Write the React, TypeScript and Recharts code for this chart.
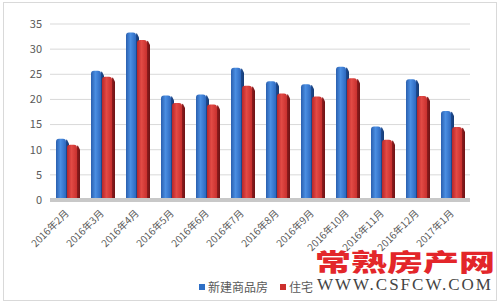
import React from "react";
import {
  BarChart,
  Bar,
  XAxis,
  YAxis,
  CartesianGrid,
  Legend,
} from "recharts";

const months = [
  "2016年2月",
  "2016年3月",
  "2016年4月",
  "2016年5月",
  "2016年6月",
  "2016年7月",
  "2016年8月",
  "2016年9月",
  "2016年10月",
  "2016年11月",
  "2016年12月",
  "2017年1月",
];
const newBuild = [12.2, 25.7, 33.3, 20.8, 21, 26.3, 23.6, 23, 26.5, 14.6, 24, 17.7];
const housing = [11, 24.5, 31.8, 19.3, 19, 22.7, 21.2, 20.6, 24.2, 12, 20.7, 14.5];
const yTicks = [0, 5, 10, 15, 20, 25, 30, 35];
const seriesNames = ["新建商品房", "住宅"];
const seriesColors = ["#2e6fc6", "#cc2f2d"];

const data = months.map((m, i) => ({
  name: m,
  newBuild: newBuild[i],
  housing: housing[i],
}));

const font = '"Noto Sans CJK SC", "Noto Sans", sans-serif';

function Bar3D(props: any) {
  const { x, y, width, height, gid } = props;
  if (!height || height <= 0) return null;
  const r = 3;
  const side = 3;
  const front = `M${x},${y + height} L${x},${y + r} Q${x},${y} ${x + r},${y} L${x + width - side - r},${y} Q${x + width - side},${y} ${x + width - side},${y + r} L${x + width - side},${y + height} Z`;
  const sideFace = `M${x + width - side},${y + height} L${x + width - side},${y + r} Q${x + width - side},${y} ${x + width - side + 1},${y + 1} L${x + width},${y + r + 2} L${x + width},${y + height} Z`;
  return (
    <g>
      <path d={front} fill={`url(#${gid}-front)`} />
      <path d={sideFace} fill={`url(#${gid}-side)`} />
    </g>
  );
}

function XTick(props: any) {
  const { x, y, payload } = props;
  return (
    <text
      x={x + 2}
      y={y + 6}
      transform={`rotate(-45, ${x + 2}, ${y + 6})`}
      textAnchor="end"
      fontSize={10}
      fill="#595959"
      fontFamily={font}
    >
      {payload.value}
    </text>
  );
}

// fixed order, same as the reference legend
function LegendBox() {
  return (
    <div style={{ display: "flex", alignItems: "center", fontSize: 12, color: "#595959", fontFamily: font }}>
      {seriesNames.map((n, i) => (
        <span key={n} style={{ display: "flex", alignItems: "center", marginRight: 12 }}>
          <span style={{ width: 6, height: 6, background: seriesColors[i], marginRight: 3, display: "inline-block" }} />
          {n}
        </span>
      ))}
    </div>
  );
}

export default function App() {
  return (
    <div
      style={{
        position: "fixed",
        left: 0,
        top: 0,
        width: 500,
        height: 308,
        background: "#fff",
        fontFamily: font,
      }}
    >
      <div
        style={{
          position: "absolute",
          left: 3,
          top: 2,
          width: 492,
          height: 297,
          border: "1px solid #d9d9d9",
        }}
      />
      <BarChart
        width={500}
        height={308}
        data={data}
        margin={{ top: 24, right: 30, left: 0, bottom: 8 }}
        barGap={-2}
        barSize={13}
      >
        <defs>
          <linearGradient id="blue-front" x1="0" y1="0" x2="1" y2="0">
            <stop offset="0%" stopColor="#2a5fae" />
            <stop offset="45%" stopColor="#4a8ee2" />
            <stop offset="100%" stopColor="#2d68bf" />
          </linearGradient>
          <linearGradient id="blue-side" x1="0" y1="0" x2="1" y2="0">
            <stop offset="0%" stopColor="#1d4a8f" />
            <stop offset="100%" stopColor="#173c75" />
          </linearGradient>
          <linearGradient id="red-front" x1="0" y1="0" x2="1" y2="0">
            <stop offset="0%" stopColor="#b8272a" />
            <stop offset="45%" stopColor="#e24a45" />
            <stop offset="100%" stopColor="#c8302e" />
          </linearGradient>
          <linearGradient id="red-side" x1="0" y1="0" x2="1" y2="0">
            <stop offset="0%" stopColor="#8e1b1d" />
            <stop offset="100%" stopColor="#6e1416" />
          </linearGradient>
        </defs>
        <CartesianGrid vertical={false} stroke="#d9d9d9" />
        <XAxis
          dataKey="name"
          interval={0}
          height={82}
          tick={<XTick />}
          tickLine={false}
          axisLine={{ stroke: "#c8c8c8", strokeWidth: 4 }}
        />
        <YAxis
          domain={[0, 35]}
          ticks={yTicks}
          width={50}
          axisLine={false}
          tickLine={false}
          tick={{ fontSize: 11, fill: "#595959", fontFamily: font }}
        />
        <Legend
          verticalAlign="bottom"
          align="left"
          height={18}
          content={<LegendBox />}
          wrapperStyle={{ left: 199, width: 130, top: 278 }}
        />
        <Bar
          dataKey="newBuild"
          name={seriesNames[0]}
          fill={seriesColors[0]}
          shape={<Bar3D gid="blue" />}
          isAnimationActive={false}
        />
        <Bar
          dataKey="housing"
          name={seriesNames[1]}
          fill={seriesColors[1]}
          shape={<Bar3D gid="red" />}
          isAnimationActive={false}
        />
      </BarChart>
      <div
        style={{
          position: "absolute",
          left: 315,
          top: 251,
          height: 20,
          fontSize: 24,
          lineHeight: "20px",
          fontWeight: 900,
          color: "#e3262a",
          whiteSpace: "nowrap",
          transform: "scaleX(1.5)",
          transformOrigin: "0 0",
          fontFamily: '"Noto Sans CJK SC", sans-serif',
        }}
      >
        常熟房产网
      </div>
      <div
        style={{
          position: "absolute",
          left: 317,
          top: 277,
          fontSize: 17,
          lineHeight: "15px",
          color: "#444",
          letterSpacing: 2,
          whiteSpace: "nowrap",
          fontFamily: '"Liberation Serif", serif',
        }}
      >
        WWW.CSFCW.COM
      </div>
    </div>
  );
}
